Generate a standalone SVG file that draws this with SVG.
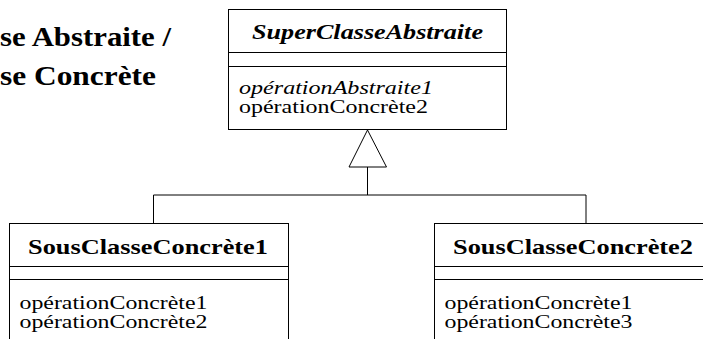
<svg xmlns="http://www.w3.org/2000/svg" width="703" height="339" viewBox="0 0 703 339">
<style>
  .heading { font-size: 28px; font-weight: bold; }
  .cname { font-size: 21px; font-weight: bold; }
  .abs { font-style: italic; }
  .op { font-size: 19px; }
  .box { fill: #fff; stroke: #000; stroke-width: 1; }
  .sep { stroke: #000; stroke-width: 1; fill: none; }
  .conn { stroke: #000; stroke-width: 1; fill: none; }
  .tri { fill: #fff; stroke: #000; stroke-width: 1; }
</style>
<rect width="703" height="339" fill="#fff"/>
<g id="heading">
  <text class="heading" font-family="Liberation Serif" x="0" y="46" textLength="171" lengthAdjust="spacingAndGlyphs">se Abstraite /</text>
  <text class="heading" font-family="Liberation Serif" x="0" y="85" textLength="156" lengthAdjust="spacingAndGlyphs">se Concrète</text>
</g>
<g id="connectors">
  <path class="conn" d="M367.5,167 V195 M153.5,195 H586 M153.5,195 V223.5 M586,195 V223.5"/>
  <polygon class="tri" points="367.5,130 349,167 386.5,167"/>
</g>
<g id="SuperClasseAbstraite">
  <rect class="box" x="228.5" y="9.5" width="278" height="120"/>
  <line class="sep" x1="228.5" y1="52.5" x2="506.5" y2="52.5"/>
  <line class="sep" x1="228.5" y1="66.5" x2="506.5" y2="66.5"/>
  <text class="cname abs" font-family="Liberation Serif" x="252" y="39" textLength="231" lengthAdjust="spacingAndGlyphs">SuperClasseAbstraite</text>
  <text class="op abs" font-family="Liberation Serif" x="239" y="94" textLength="194" lengthAdjust="spacingAndGlyphs">opérationAbstraite1</text>
  <text class="op" font-family="Liberation Serif" x="239" y="113" textLength="189" lengthAdjust="spacingAndGlyphs">opérationConcrète2</text>
</g>
<g id="SousClasseConcrete1">
  <rect class="box" x="9.5" y="223.5" width="279" height="130"/>
  <line class="sep" x1="9.5" y1="266.5" x2="288.5" y2="266.5"/>
  <line class="sep" x1="9.5" y1="279.5" x2="288.5" y2="279.5"/>
  <text class="cname" font-family="Liberation Serif" x="28" y="254" textLength="240" lengthAdjust="spacingAndGlyphs">SousClasseConcrète1</text>
  <text class="op" font-family="Liberation Serif" x="19.5" y="309" textLength="188" lengthAdjust="spacingAndGlyphs">opérationConcrète1</text>
  <text class="op" font-family="Liberation Serif" x="19.5" y="328" textLength="188" lengthAdjust="spacingAndGlyphs">opérationConcrète2</text>
</g>
<g id="SousClasseConcrete2">
  <rect class="box" x="434.5" y="223.5" width="290" height="130"/>
  <line class="sep" x1="434.5" y1="266.5" x2="724.5" y2="266.5"/>
  <line class="sep" x1="434.5" y1="279.5" x2="724.5" y2="279.5"/>
  <text class="cname" font-family="Liberation Serif" x="453" y="254" textLength="240" lengthAdjust="spacingAndGlyphs">SousClasseConcrète2</text>
  <text class="op" font-family="Liberation Serif" x="444.5" y="309" textLength="188" lengthAdjust="spacingAndGlyphs">opérationConcrète1</text>
  <text class="op" font-family="Liberation Serif" x="444.5" y="328" textLength="188" lengthAdjust="spacingAndGlyphs">opérationConcrète3</text>
</g>
</svg>
